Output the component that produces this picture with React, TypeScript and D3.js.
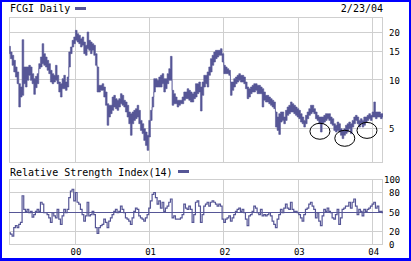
import React from "react";
import * as d3 from "d3";

// ---- data ----
const TITLE = "FCGI Daily";
const DATE_LABEL = "2/23/04";
const RSI_TITLE = "Relative Strength Index(14)";
const START = new Date(1999, 1, 14);
const STEP_DAYS = 8.18;

const PRICE_HI = [
  16.26,14.98,14.28,13.28,12.07,11.23,9.48,9.04,17.9,12.07,12.07,12.07,12.36,12.07,10.96,10.19,10.54,10.96,12.66,13.94,
  16.9,14.63,13.94,13.28,12.66,11.5,10.96,10.7,12.36,10.7,9.71,9.48,10.19,10.7,9.71,10.44,15.0,16.11,17.73,18.61,
  20.48,19.52,19.06,18.16,18.61,17.31,16.5,20.0,17.73,17.31,16.9,16.5,14.63,12.07,9.26,9.26,9.48,9.04,8.41,7.1,
  6.94,6.94,7.82,8.01,7.64,7.46,7.64,8.21,8.01,7.46,7.28,6.94,6.3,6.15,6.3,6.45,6.61,6.94,6.45,5.58,
  5.32,4.95,4.72,4.5,5.58,6.45,7.82,10.19,10.19,9.95,10.44,10.7,10.96,10.19,10.19,10.96,11.78,14.07,8.61,8.21,
  7.82,7.46,7.46,7.46,7.82,8.41,8.41,8.82,8.61,8.41,8.21,8.41,
  9.48,9.48,9.71,9.04,9.71,10.7,10.7,11.23,12.07,13.61,14.28,14.98,15.35,15.35,15.35,15.72,14.63,12.36,12.07,11.78,
  11.5,9.71,9.71,10.19,10.44,10.7,10.96,10.7,10.7,10.44,9.71,9.04,8.82,9.04,9.26,9.48,9.48,9.26,9.26,9.04,
  8.82,8.41,8.01,8.01,7.82,7.64,7.46,7.28,6.3,5.86,6.15,6.3,6.3,5.86,6.45,6.77,6.94,7.28,7.1,6.94,
  6.77,6.61,6.45,6.15,5.86,5.58,6.0,6.3,6.61,6.94,6.94,6.61,6.3,6.0,5.86,5.86,5.86,6.0,6.15,6.15,
  6.15,5.86,5.72,5.32,5.2,5.45,5.32,4.95,4.83,4.95,5.2,5.32,5.45,5.32,5.58,5.86,6.0,5.86,5.58,5.72,
  5.58,5.86,5.86,6.0,6.15,6.0,6.3,7.28,6.3,6.3,6.3,6.15,6.15,
];
const PRICE_LO = [
  14.63,13.61,12.36,11.23,10.44,9.48,6.77,7.82,8.01,9.48,9.04,9.95,10.7,9.95,9.48,8.13,8.95,9.48,11.78,12.07,
  12.66,12.36,12.07,11.5,10.96,9.71,9.48,9.71,9.95,9.48,8.41,7.82,8.82,8.82,8.61,9.04,12.07,14.63,16.11,16.9,
  17.73,17.31,16.9,16.11,16.5,14.63,14.28,15.72,15.35,14.63,15.35,14.28,12.36,8.41,8.41,8.61,8.61,7.82,6.94,5.2,
  5.86,6.15,6.45,6.77,6.61,6.45,6.77,7.1,6.94,6.77,6.3,5.86,5.32,4.5,5.32,5.58,5.72,5.86,5.32,4.83,
  4.61,4.18,3.89,3.62,4.39,5.58,6.77,8.41,9.04,9.04,9.04,9.04,9.48,8.41,8.82,9.48,9.95,9.95,6.94,7.1,
  7.1,6.77,6.94,7.1,7.1,7.46,7.64,7.64,7.46,7.28,7.28,7.64,
  7.82,8.21,8.41,6.39,8.01,9.04,9.48,9.04,10.7,11.23,12.36,12.97,13.61,13.94,14.28,14.28,12.97,10.96,10.96,10.96,
  10.7,8.01,8.61,9.04,9.48,9.71,9.95,9.71,9.71,9.48,8.82,7.64,7.82,8.21,8.41,8.41,8.61,8.21,8.21,8.21,
  6.77,7.46,7.28,7.28,7.1,6.94,6.77,6.61,5.07,4.83,4.56,5.45,5.58,5.32,5.58,6.0,6.15,6.3,6.3,6.15,
  6.0,5.86,5.72,5.45,5.32,5.07,5.32,5.72,6.0,6.15,6.3,6.15,5.72,5.58,5.32,4.72,5.32,5.45,5.58,5.72,
  5.58,5.32,5.2,4.83,4.72,4.83,4.72,4.5,4.29,4.5,4.61,4.72,4.95,4.61,5.07,5.32,5.58,5.32,5.07,5.32,
  5.07,5.2,5.45,5.58,5.72,5.58,5.86,5.86,5.72,5.86,5.86,5.72,5.86,
];
const RSI = [
  18,16,13,26,29,26,31,34,75,54,51,54,49,51,42,46,51,54,51,65,
  62,49,49,46,41,34,49,44,41,54,39,31,44,54,49,54,72,82,85,67,
  80,65,62,54,46,36,44,65,44,46,51,46,26,17,26,29,31,39,34,26,
  36,41,46,51,54,49,51,59,54,49,41,39,36,31,41,51,56,54,44,41,
  39,36,41,46,56,67,77,80,72,62,67,56,65,51,56,59,65,70,41,44,
  39,39,39,41,46,62,56,54,59,54,34,46,
  65,67,59,34,46,59,62,65,59,65,67,65,62,59,62,59,39,34,39,41,
  44,36,41,46,51,54,56,51,54,49,39,29,44,46,51,59,56,49,46,54,
  44,46,44,46,49,44,36,31,26,39,46,54,49,56,62,56,54,65,54,51,
  51,49,46,41,36,46,54,56,62,65,59,54,41,49,36,29,44,54,51,56,
  51,49,41,39,46,54,31,41,54,56,59,59,65,56,65,70,59,46,54,51,
  44,54,51,54,56,59,62,65,56,59,51,51,49,
];
const PRICE_TICKS = [20, 15, 10, 5];
const RSI_TICKS = [100, 80, 50, 20, 0];
const YEAR_TICKS = [2000, 2001, 2002, 2003, 2004];
const MARKS = [
  { date: new Date(2003, 3, 17), price: 4.77 },
  { date: new Date(2003, 7, 17), price: 4.31 },
  { date: new Date(2003, 11, 4), price: 4.83 },
];

// ---- style ----
const W = 411, H = 261;
const COLOR = "#565696";
const GRID = "#cfcfcf";
const L = 9, R = 383;
const MT = 17, MB = 163;
const RT = 179, RB = 244;
const MONO = "'DejaVu Sans Mono', monospace";

export default function App() {
  const x = d3.scaleTime().domain([new Date(2000, 0, 1), new Date(2004, 0, 1)]).range([75, 372.7]);
  const y = d3.scaleLog().domain([5, 20]).range([128, 32]);
  const yr = d3.scaleLinear().domain([0, 100]).range([244.5, 179.5]);
  const dates = PRICE_HI.map((_, i) => new Date(START.getTime() + i * STEP_DAYS * 864e5));
  const data = dates.map((d, i) => ({ d, hi: PRICE_HI[i], lo: PRICE_LO[i], rsi: RSI[i] }));

  const area = d3.area<any>().x(p => x(p.d)).y0(p => y(p.lo)).y1(p => y(p.hi)).curve(d3.curveStep);
  const rsiLine = d3.line<any>().x(p => x(p.d)).y(p => yr(p.rsi)).curve(d3.curveStep);
  const fmt = d3.timeFormat("%y");
  const px = (v: number) => Math.floor(v) + 0.5;

  return (
    <svg width={W} height={H} style={{ position: "fixed", left: 0, top: 0, background: "#fff" }}>
      <defs>
        <clipPath id="mclip"><rect x={L} y={MT} width={R - L} height={MB - MT} /></clipPath>
        <clipPath id="rclip"><rect x={L} y={RT} width={R - L} height={RB - RT + 1} /></clipPath>
      </defs>
      <rect x={0} y={0} width={W} height={H} fill="#fff" />
      {/* main panel grid */}
      <g stroke={GRID} strokeWidth={1} fill="none" shapeRendering="crispEdges">
        {PRICE_TICKS.map(t => <line key={t} x1={L} x2={R} y1={px(y(t))} y2={px(y(t))} />)}
        {YEAR_TICKS.map(t => <line key={t} x1={px(x(new Date(t, 0, 1)))} x2={px(x(new Date(t, 0, 1)))} y1={MT} y2={MB} />)}
        <rect x={L + 0.5} y={MT + 0.5} width={R - L - 1} height={MB - MT - 1} />
        {[80, 20].map(t => <line key={t} x1={L} x2={R} y1={px(yr(t))} y2={px(yr(t))} />)}
        {YEAR_TICKS.map(t => <line key={"r" + t} x1={px(x(new Date(t, 0, 1)))} x2={px(x(new Date(t, 0, 1)))} y1={RT} y2={RB} />)}
        <rect x={L + 0.5} y={RT + 0.5} width={R - L - 1} height={RB - RT} />
      </g>
      <line x1={L} x2={R} y1={px(yr(50))} y2={px(yr(50))} stroke={COLOR} strokeWidth={1} shapeRendering="crispEdges" />
      {/* price band */}
      <g clipPath="url(#mclip)">
        <path d={area(data) || ""} fill={COLOR} stroke={COLOR} strokeWidth={0.6} />
      </g>
      {/* RSI */}
      <g clipPath="url(#rclip)">
        <path d={rsiLine(data) || ""} fill="none" stroke={COLOR} strokeWidth={1.2} />
      </g>
      {/* annotations */}
      {MARKS.map((m, i) => (
        <ellipse key={i} cx={x(m.date)} cy={y(m.price)} rx={10} ry={8} fill="none" stroke="#000" strokeWidth={1} />
      ))}
      {/* titles */}
      <g fontFamily={MONO} fontSize={10} fill="#000">
        <text x={10} y={12}>{TITLE}</text>
        <text x={R} y={12} textAnchor="end">{DATE_LABEL}</text>
        <text x={10} y={175.5}>{RSI_TITLE}</text>
      </g>
      <rect x={75} y={7} width={11} height={3} fill={COLOR} />
      <rect x={178} y={170} width={11} height={3} fill={COLOR} />
      {/* axis labels */}
      <g fontFamily={MONO} fontSize={9} fill="#000">
        {PRICE_TICKS.map(t => <text key={t} x={389} y={y(t) + 3.5}>{t}</text>)}
        {RSI_TICKS.map(t => <text key={t} x={t === 100 ? 384 : 389} y={yr(t) + 3.5}>{t}</text>)}
        {YEAR_TICKS.map(t => <text key={t} x={x(new Date(t, 0, 1)) + 1} y={255} textAnchor="middle">{fmt(new Date(t, 0, 1))}</text>)}
      </g>
      {/* blue frame */}
      <g fill="#0000ff">
        <rect x={0} y={0} width={W} height={2} />
        <rect x={0} y={0} width={2} height={H} />
        <rect x={W - 2} y={0} width={2} height={H} />
        <rect x={0} y={H - 3} width={W} height={3} />
      </g>
    </svg>
  );
}
